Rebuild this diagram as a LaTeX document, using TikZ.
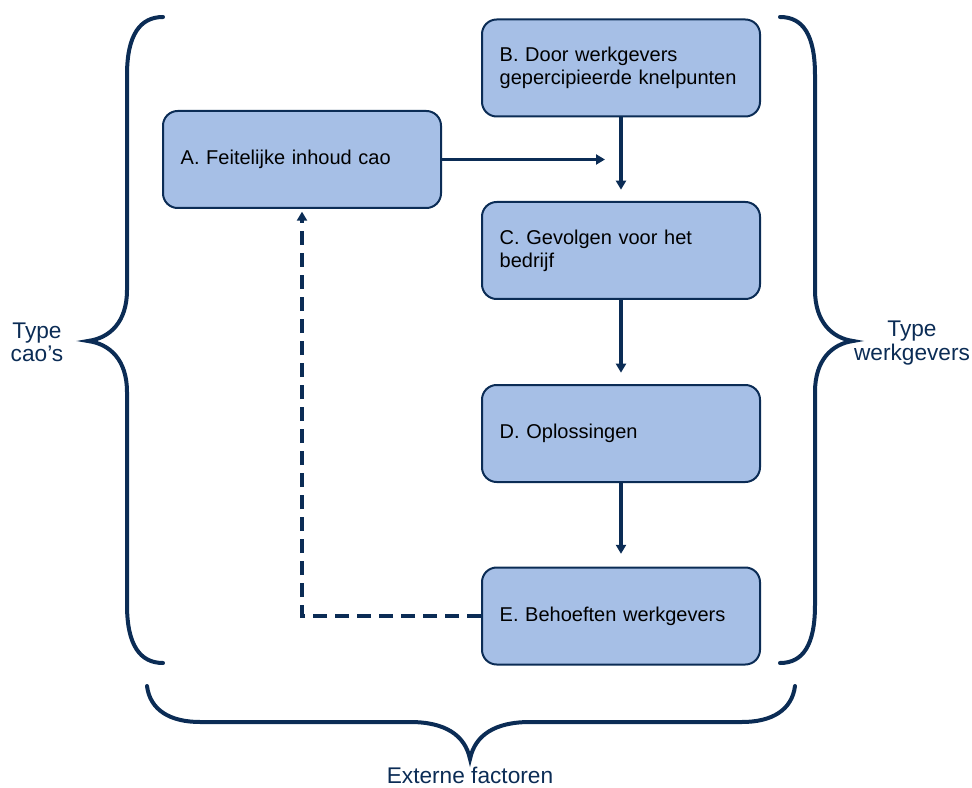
\documentclass[tikz,border=0pt]{standalone}
\usepackage{fontspec}
\setmainfont{Liberation Sans}
\usepackage{tikz}
\usetikzlibrary{arrows.meta}
\definecolor{navy}{HTML}{0B2C55}
\definecolor{boxblue}{HTML}{A6BFE6}
\begin{document}
\begin{tikzpicture}[x=0.75pt,y=-0.75pt,
  stap/.style={draw=navy,line width=1.5pt,fill=boxblue,rounded corners=11pt,
    minimum width=208.5pt,minimum height=72.75pt,text width=182pt,inner xsep=13.25pt,
    align=left,font=\fontsize{15}{17}\selectfont},
  pijl/.style={draw=navy,line width=2.3pt,-{Triangle[length=6.75pt,width=7.5pt]}},
  haak/.style={draw=navy,line width=3pt,line cap=round},
  label/.style={text=navy,align=center,font=\fontsize{17}{17.5}\selectfont}]
\useasboundingbox (0,0) rectangle (972,788);
% boxes
\node (B) [stap] at (621,68) {B. Door werkgevers\\gepercipieerde knelpunten};
\node (A) [stap] at (302,159.5) {A. Feitelijke inhoud cao};
\node (C) [stap] at (621,250.5) {C. Gevolgen voor het\\bedrijf};
\node (D) [stap] at (621,433.5) {D. Oplossingen};
\node (E) [stap] at (621,616) {E. Behoeften werkgevers};
% arrows
\coordinate (aend) at (605,158.5);
\draw [pijl] (A.east) -- (A.east -| aend);
\draw [pijl,shorten >=8.5pt] (B) -- (C);
\draw [pijl,shorten >=8.5pt] (C) -- (D);
\draw [pijl,shorten >=9.5pt] (D) -- (E);
\coordinate (hoek) at (E.west -| A.south);
\draw [pijl,dash pattern=on 10.5pt off 6pt,shorten >=2pt] (E.west) -- (hoek) -- (A.south);
% braces
\draw [haak] (163,17) .. controls (140,17) and (127,35) .. (127,75) -- (127,290)
  .. controls (127,322) and (110,338) .. (88,341)
  .. controls (110,344) and (127,360) .. (127,392) -- (127,605)
  .. controls (127,645) and (140,663) .. (163,663);
\draw [haak] (780,17) .. controls (803,17) and (815,35) .. (815,75) -- (815,290)
  .. controls (815,322) and (832,338) .. (853,341)
  .. controls (832,344) and (815,360) .. (815,392) -- (815,605)
  .. controls (815,645) and (803,663) .. (780,663);
\draw [haak] (147,686) .. controls (150,710) and (170,722) .. (200,722) -- (410,722)
  .. controls (445,722) and (465,735) .. (470,759)
  .. controls (475,735) and (495,722) .. (530,722) -- (742,722)
  .. controls (772,722) and (792,710) .. (795,686);
% labels
\node (typecao) [label] at (37,342) {Type\\cao's};
\node (typewg) [label] at (912,343) {Type\\werkgevers};
\node (extern) [label] at (470,775) {Externe factoren};
\end{tikzpicture}
\end{document}
